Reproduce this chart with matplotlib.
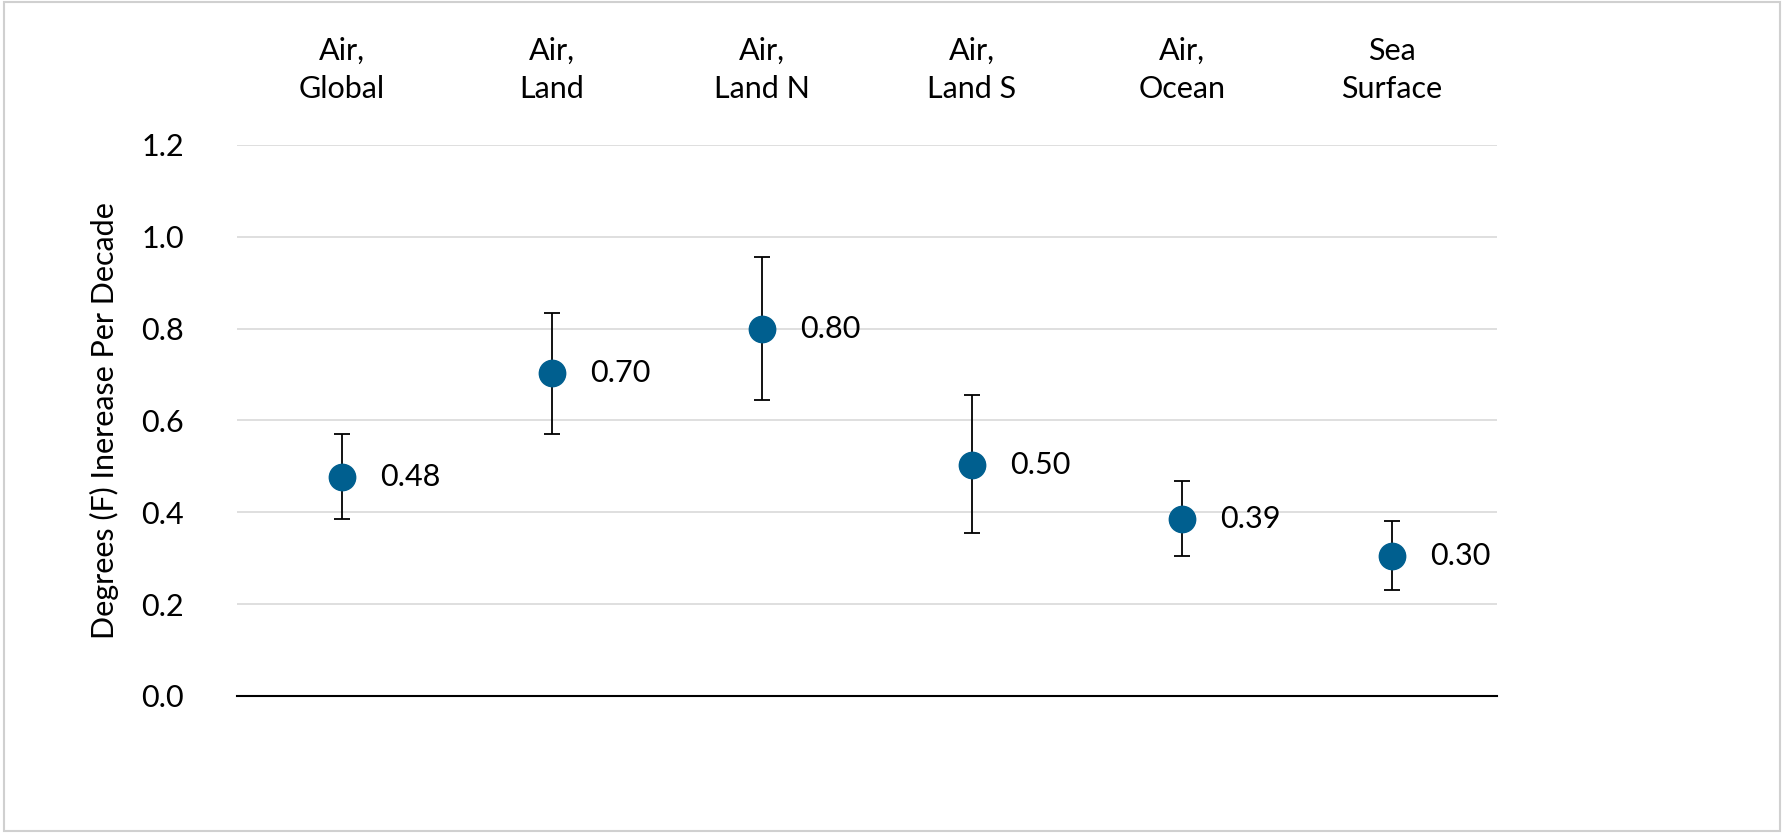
import matplotlib.pyplot as plt
from matplotlib.patches import Rectangle

plt.rcParams["font.family"] = "Lato"

categories = ["Air,\nGlobal", "Air,\nLand", "Air,\nLand N", "Air,\nLand S", "Air,\nOcean", "Sea\nSurface"]
trend = [0.477, 0.703, 0.800, 0.503, 0.385, 0.305]
low = [0.385, 0.570, 0.645, 0.355, 0.305, 0.230]
high = [0.570, 0.835, 0.955, 0.655, 0.468, 0.380]
labels = ["0.48", "0.70", "0.80", "0.50", "0.39", "0.30"]

fig = plt.figure(figsize=(17.84, 8.33), dpi=100)
fig.patches.append(Rectangle((0.002, 0.002), 0.996, 0.996, transform=fig.transFigure,
                             fill=False, edgecolor="#d0d0d0", linewidth=1.5))
ax = fig.add_axes([0.1328, 0.1645, 0.7063, 0.6615])

x = list(range(len(categories)))
yerr = [[t - l for t, l in zip(trend, low)], [h - t for t, h in zip(trend, high)]]
ax.errorbar(x, trend, yerr=yerr, fmt="o", color="#005f8f", markersize=19,
            ecolor="black", elinewidth=1.3, capsize=6, capthick=1.3, zorder=3)
for xi, yi, lab in zip(x, trend, labels):
    ax.text(xi + 0.18, yi, lab, fontsize=22, va="center", ha="left")

ax.set_xlim(-0.5, 5.5)
ax.set_ylim(0, 1.2)
ax.set_yticks([0, 0.2, 0.4, 0.6, 0.8, 1.0, 1.2])
ax.set_yticklabels([f"{v:.1f}" for v in [0, 0.2, 0.4, 0.6, 0.8, 1.0, 1.2]])
ax.tick_params(axis="y", labelsize=22, length=0, pad=38)
ax.xaxis.tick_top()
ax.set_xticks(x)
ax.set_xticklabels(categories, fontsize=22, linespacing=1.45)
ax.tick_params(axis="x", length=0, pad=30)
ax.grid(axis="y", color="#d9d9d9", linewidth=1.2)
ax.set_axisbelow(True)
for s in ["top", "right", "left"]:
    ax.spines[s].set_visible(False)
ax.spines["bottom"].set_linewidth(1.5)
ax.set_ylabel("Degrees (F) Inerease Per Decade", fontsize=22, labelpad=16)

fig.savefig("out.png", dpi=100)
